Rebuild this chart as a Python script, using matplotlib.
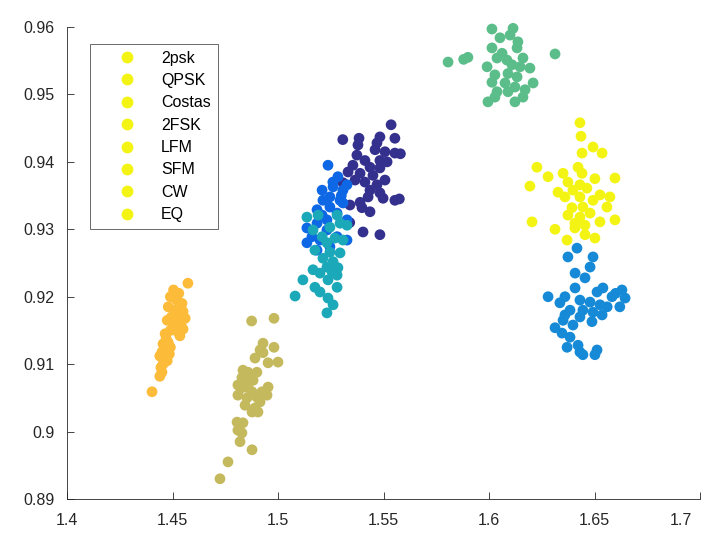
import numpy as np
import matplotlib
matplotlib.use('Agg')
import matplotlib.pyplot as plt
import matplotlib.transforms as mtransforms
from matplotlib.lines import Line2D

plt.rcParams['font.family'] = ['Liberation Sans', 'DejaVu Sans']

labels = ['2psk', 'QPSK', 'Costas', '2FSK', 'LFM', 'SFM', 'CW', 'EQ']

# 2psk (navy)
psk2_x = [1.5536, 1.5307, 1.5384, 1.5379, 1.5483, 1.5554, 1.5469, 1.5460, 1.5507, 1.5554,
          1.5374, 1.5412, 1.5483, 1.5517, 1.5355, 1.5436, 1.5483, 1.5332, 1.5389, 1.5450,
          1.5507, 1.5365, 1.5412, 1.5469, 1.5308, 1.5436, 1.5483, 1.5427, 1.5498, 1.5554,
          1.5341, 1.5398, 1.5436, 1.5389, 1.5403, 1.5483, 1.5580, 1.5575, 1.5340]
psk2_y = [0.9455, 0.9433, 0.9435, 0.9425, 0.9437, 0.9435, 0.9428, 0.9418, 0.9415, 0.9413,
          0.9410, 0.9402, 0.9402, 0.9400, 0.9395, 0.9392, 0.9391, 0.9385, 0.9383, 0.9380,
          0.9373, 0.9373, 0.9370, 0.9366, 0.9369, 0.9358, 0.9354, 0.9348, 0.9346, 0.9343,
          0.9336, 0.9332, 0.9326, 0.9340, 0.9296, 0.9292, 0.9412, 0.9345, 0.9310]

# QPSK (blue)
qpsk_x = [1.5237, 1.5284, 1.5261, 1.5209, 1.5308, 1.5246, 1.5294, 1.5213, 1.5185, 1.5246,
          1.5308, 1.5280, 1.5137, 1.5185, 1.5232, 1.5161, 1.5137, 1.5199, 1.5246, 1.5185,
          1.5280, 1.5327, 1.5232, 1.5209, 1.5327, 1.5327, 1.5260, 1.5300]
qpsk_y = [0.9395, 0.9378, 0.9363, 0.9358, 0.9358, 0.9348, 0.9343, 0.9343, 0.9329, 0.9333,
          0.9339, 0.9324, 0.9302, 0.9309, 0.9314, 0.9289, 0.9280, 0.9284, 0.9274, 0.9269,
          0.9289, 0.9284, 0.9299, 0.9321, 0.9314, 0.9366, 0.9370, 0.9350]

# Costas (light blue)
costas_x = [1.6417, 1.6374, 1.6493, 1.6479, 1.6408, 1.6455, 1.6408, 1.6540, 1.6512, 1.6280,
            1.6583, 1.6360, 1.6431, 1.6479, 1.6336, 1.6526, 1.6445, 1.6384, 1.6493, 1.6360,
            1.6431, 1.6536, 1.6488, 1.6351, 1.6398, 1.6313, 1.6346, 1.6384, 1.6370, 1.6422,
            1.6431, 1.6512, 1.6445, 1.6502, 1.6630, 1.6645, 1.6620, 1.6600, 1.6560]
costas_y = [0.9272, 0.9259, 0.9259, 0.9244, 0.9235, 0.9228, 0.9213, 0.9213, 0.9207, 0.9200,
            0.9200, 0.9200, 0.9195, 0.9192, 0.9191, 0.9188, 0.9180, 0.9180, 0.9177, 0.9173,
            0.9170, 0.9173, 0.9163, 0.9165, 0.9158, 0.9154, 0.9146, 0.9140, 0.9125, 0.9128,
            0.9118, 0.9121, 0.9114, 0.9114, 0.9210, 0.9198, 0.9185, 0.9205, 0.9185]

# 2FSK (teal)
fsk2_x = [1.5137, 1.5190, 1.5280, 1.5294, 1.5246, 1.5166, 1.5327, 1.5209, 1.5270, 1.5308,
          1.5232, 1.5175, 1.5246, 1.5294, 1.5213, 1.5261, 1.5232, 1.5284, 1.5166, 1.5256,
          1.5199, 1.5280, 1.5237, 1.5118, 1.5175, 1.5280, 1.5199, 1.5081, 1.5237, 1.5261,
          1.5232]
fsk2_y = [0.9318, 0.9321, 0.9321, 0.9309, 0.9303, 0.9299, 0.9306, 0.9289, 0.9287, 0.9284,
          0.9280, 0.9269, 0.9266, 0.9265, 0.9257, 0.9252, 0.9244, 0.9243, 0.9240, 0.9237,
          0.9235, 0.9232, 0.9225, 0.9225, 0.9214, 0.9214, 0.9207, 0.9201, 0.9198, 0.9188,
          0.9176]

# LFM (green)
lfm_x = [1.5806, 1.5900, 1.6313, 1.6014, 1.6114, 1.6052, 1.6100, 1.6137, 1.6014, 1.6062,
         1.6133, 1.6161, 1.6085, 1.6038, 1.6109, 1.6147, 1.5991, 1.6194, 1.6090, 1.6028,
         1.6133, 1.6014, 1.6076, 1.6209, 1.6123, 1.6171, 1.6038, 1.6090, 1.6028, 1.6161,
         1.5995, 1.6123, 1.5880]
lfm_y = [0.9548, 0.9555, 0.9560, 0.9597, 0.9598, 0.9584, 0.9588, 0.9578, 0.9569, 0.9561,
         0.9569, 0.9554, 0.9551, 0.9554, 0.9544, 0.9541, 0.9541, 0.9539, 0.9531, 0.9529,
         0.9526, 0.9518, 0.9517, 0.9517, 0.9511, 0.9507, 0.9504, 0.9504, 0.9496, 0.9496,
         0.9489, 0.9489, 0.9552]

# SFM (olive)
sfm_x = [1.4875, 1.4981, 1.4929, 1.4981, 1.4915, 1.5000, 1.4891, 1.4953, 1.4834, 1.4900,
         1.4829, 1.4882, 1.4953, 1.4810, 1.4858, 1.4810, 1.4853, 1.4900, 1.4844, 1.4891,
         1.4915, 1.4877, 1.4806, 1.4834, 1.4810, 1.4829, 1.4820, 1.4877, 1.4763, 1.4725,
         1.4929, 1.4858, 1.4877, 1.4924, 1.4829, 1.4948, 1.4905, 1.4853]
sfm_y = [0.9164, 0.9168, 0.9131, 0.9125, 0.9121, 0.9103, 0.9109, 0.9102, 0.9091, 0.9088,
         0.9080, 0.9076, 0.9066, 0.9069, 0.9065, 0.9054, 0.9050, 0.9051, 0.9039, 0.9035,
         0.9044, 0.9029, 0.9014, 0.9013, 0.9002, 0.8998, 0.8985, 0.8973, 0.8955, 0.8930,
         0.9117, 0.9088, 0.9059, 0.9059, 0.9065, 0.9054, 0.9029, 0.9074]

# CW (orange)
cw_x = [1.4573, 1.4505, 1.4530, 1.4490, 1.4520, 1.4545, 1.4480, 1.4510, 1.4550, 1.4535,
        1.4495, 1.4560, 1.4520, 1.4475, 1.4540, 1.4505, 1.4550, 1.4490, 1.4525, 1.4535,
        1.4465, 1.4470, 1.4480, 1.4455, 1.4490, 1.4470, 1.4450, 1.4485, 1.4460, 1.4440,
        1.4475, 1.4455, 1.4445, 1.4450, 1.4440, 1.4403]
cw_y = [0.9220, 0.9210, 0.9205, 0.9200, 0.9195, 0.9190, 0.9185, 0.9180, 0.9178, 0.9172,
        0.9170, 0.9168, 0.9165, 0.9165, 0.9160, 0.9158, 0.9152, 0.9150, 0.9148, 0.9142,
        0.9145, 0.9138, 0.9132, 0.9130, 0.9125, 0.9120, 0.9118, 0.9115, 0.9110, 0.9112,
        0.9105, 0.9100, 0.9095, 0.9088, 0.9082, 0.9059]

# EQ (yellow)
eq_x = [1.6431, 1.6436, 1.6493, 1.6441, 1.6536, 1.6227, 1.6422, 1.6280, 1.6351, 1.6441,
        1.6597, 1.6502, 1.6374, 1.6194, 1.6431, 1.6327, 1.6398, 1.6464, 1.6360, 1.6526,
        1.6431, 1.6573, 1.6493, 1.6559, 1.6393, 1.6445, 1.6479, 1.6374, 1.6431, 1.6597,
        1.6204, 1.6526, 1.6407, 1.6455, 1.6313, 1.6407, 1.6455, 1.6502, 1.6370]
eq_y = [0.9458, 0.9438, 0.9422, 0.9413, 0.9413, 0.9392, 0.9392, 0.9378, 0.9383, 0.9383,
        0.9376, 0.9375, 0.9370, 0.9364, 0.9366, 0.9355, 0.9358, 0.9361, 0.9348, 0.9351,
        0.9348, 0.9348, 0.9343, 0.9333, 0.9332, 0.9333, 0.9324, 0.9321, 0.9318, 0.9314,
        0.9311, 0.9311, 0.9309, 0.9306, 0.9300, 0.9302, 0.9292, 0.9287, 0.9284]

xs = [psk2_x, qpsk_x, costas_x, fsk2_x, lfm_x, sfm_x, cw_x, eq_x]
ys = [psk2_y, qpsk_y, costas_y, fsk2_y, lfm_y, sfm_y, cw_y, eq_y]
colors = ['#34308e', '#0e68e6', '#168ad6', '#1ba8b8', '#5bbd89', '#c5b95e', '#fcbc3a', '#f4f414']

xticks = [1.4, 1.45, 1.5, 1.55, 1.6, 1.65, 1.7]
yticks = [0.89, 0.9, 0.91, 0.92, 0.93, 0.94, 0.95, 0.96]

fig = plt.figure(figsize=(7.04, 5.52), dpi=100)
ax = fig.add_axes([67 / 704, 1 - 499 / 552, 633 / 704, 472 / 552])

for x, y, c, lab in zip(xs, ys, colors, labels):
    ax.scatter(x, y, s=60, color=c, edgecolors='none', label=lab, clip_on=False)

ax.set_xlim(1.4, 1.7)
ax.set_ylim(0.89, 0.96)
ax.set_xticks(xticks)
ax.set_yticks(yticks)
ax.set_xticklabels(['%g' % v for v in xticks])
ax.set_yticklabels(['%g' % v for v in yticks])
ax.spines['top'].set_visible(False)
ax.spines['right'].set_visible(False)
for sp in ['left', 'bottom']:
    ax.spines[sp].set_color('#262626')
    ax.spines[sp].set_linewidth(0.6)
ax.tick_params(direction='in', length=5, width=0.6, colors='#262626', labelsize=11.5)
ax.tick_params(axis='x', pad=10)
ax.tick_params(axis='y', pad=9)

# last x label sits inside the figure edge, as in the original
last = ax.get_xticklabels()[-1]
last.set_transform(last.get_transform() + mtransforms.ScaledTranslation(-19 / 100, 0, fig.dpi_scale_trans))

# MATLAB legend shows every marker in yellow
handles = [Line2D([], [], marker='o', linestyle='none', markersize=8.5,
                  markerfacecolor='#f4f414', markeredgecolor='none') for _ in labels]
leg = ax.legend(handles, labels, loc='upper left', bbox_to_anchor=(23 / 633, 1 - 17 / 472),
                fontsize=11.5, frameon=True, fancybox=False, edgecolor='#262626',
                labelspacing=0.46, handletextpad=0.23, borderpad=0.42, handlelength=3.8,
                borderaxespad=0)
leg.get_frame().set_linewidth(0.6)

fig.savefig('out.png', dpi=100)
